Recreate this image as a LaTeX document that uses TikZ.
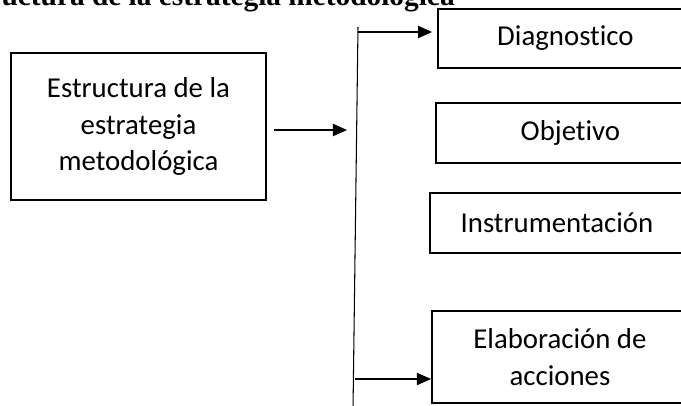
\documentclass[tikz,border=0pt]{standalone}
\usepackage{fontspec}
\setmainfont{Carlito}[Ligatures=NoCommon]
\newfontfamily\titlefont{Liberation Serif}
\usetikzlibrary{arrows.meta}

\tikzset{
  caja/.style={draw, line width=1.1pt, inner sep=0pt, align=center, font=\fontsize{16.4}{21}\selectfont},
  flecha/.style={line width=0.6pt, -{Triangle[length=8pt,width=7pt]}},
}

\begin{document}
\begin{tikzpicture}[x=0.02cm, y=-0.02cm]
\clip (0,0) rectangle (681,406);

% TITULO
\node[anchor=base east, inner sep=0pt, font=\titlefont\bfseries\fontsize{16.7}{20}\selectfont] (titulo) at (455,5) {Estructura de la estrategia metodológica};

% CAJA PRINCIPAL
\node[caja, minimum width=5.1cm, minimum height=2.94cm] (E) at (138.5,126.5) {Estructura de la\\estrategia\\metodológica};

% CAJAS DERECHA
\node[caja, anchor=west, minimum width=5.1cm, minimum height=1.18cm] (D) at (437,38.5) {Diagnostico};
\node[caja, anchor=west, minimum width=5.38cm, minimum height=1.2cm] (O) at (435,133) {Objetivo};
\node[caja, anchor=west, minimum width=5.08cm, minimum height=1.2cm] (I) at (429,223) {Instrumentación};
\node[caja, anchor=west, minimum width=5.12cm, minimum height=1.84cm] (A) at (431,357) {Elaboración de\\acciones};

% LINEA VERTICAL
\coordinate (vtop) at (358,27);
\coordinate (vbot) at (353,410);
\draw[line width=0.6pt] (vtop) -- (vbot);

% FLECHAS
\coordinate (p) at (347,130);
\draw[flecha, shorten <=4pt] (E.east |- p) -- (p);
\coordinate (a1) at (358,32);
\draw[flecha, shorten >=2.8pt] (a1) -- (a1 -| D.west);
\coordinate (a4) at (355,379);
\draw[flecha] (a4) -- (a4 -| A.west);
\end{tikzpicture}
\end{document}
